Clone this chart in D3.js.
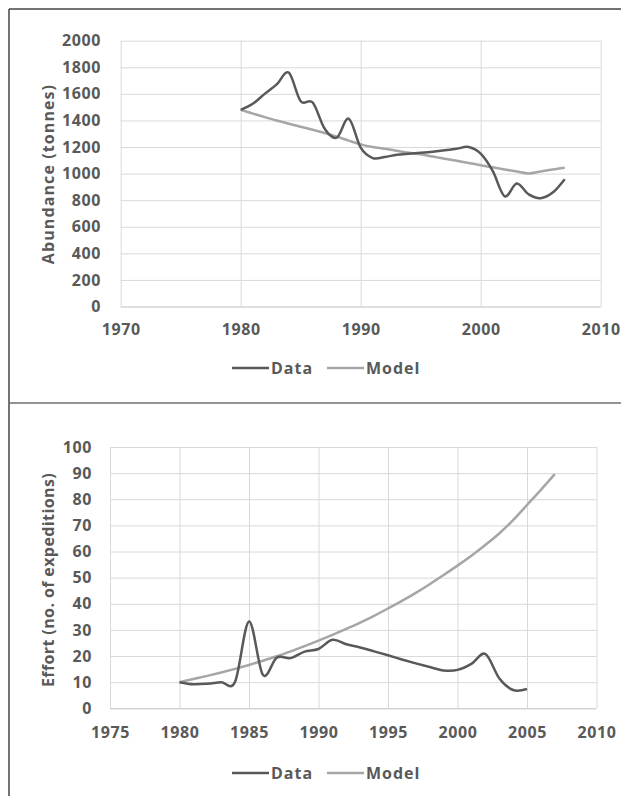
<!DOCTYPE html>
<html>
<head>
<meta charset="utf-8">
<script src="https://cdn.jsdelivr.net/npm/d3@7/dist/d3.min.js"></script>
<style>
body { margin:0; background:#fff; }
svg text { font-family:"Open Sans", sans-serif; font-weight:700; fill:#595959; }
</style>
</head>
<body>
<svg id="chart" width="621" height="796"></svg>
<script>
// abundance chart
var abundanceYears = [1980,1981,1982,1983,1984,1985,1986,1987,1988,1989,1990,1991,1992,1993,
                      1994,1995,1996,1997,1998,1999,2000,2001,2002,2003,2004,2005,2006,2007]
var abundanceData = [1480,1525,1600,1671,1760,1545,1535,1337,1270,1413,1195,1117,1125,1142,
                     1150,1157,1165,1175,1187,1200,1150,1020,829,925,844,815,857,958]
var abundanceModel = [1480,1452,1425,1400,1375,1352,1330,1305,1278,1248,1220,1200,1187,1172,
                      1157,1145,1128,1112,1096,1080,1063,1047,1031,1016,1001,1016,1031,1044]
var abundanceXTicks = [1970,1980,1990,2000,2010]
var abundanceYTicks = [0,200,400,600,800,1000,1200,1400,1600,1800,2000]

// effort chart
var effortDataYears = [1980,1981,1982,1983,1984,1985,1986,1987,1988,1989,1990,1991,1992,
                       1993,1994,1995,1996,1997,1998,1999,2000,2001,2002,2003,2004,2005]
var effortData = [10,9.2,9.4,10,10.2,33.2,12.8,19.4,19.2,21.7,22.7,26.2,24.5,
                  23.3,21.8,20.3,18.7,17.2,15.8,14.5,14.7,17,20.8,11.5,7,7.4]
var effortModelYears = [1980,1981,1982,1983,1984,1985,1986,1987,1988,1989,1990,1991,1992,1993,
                        1994,1995,1996,1997,1998,1999,2000,2001,2002,2003,2004,2005,2006,2007]
var effortModel = [10,11.2,12.4,13.7,15.1,16.6,18.2,19.9,21.8,23.8,25.9,28.1,30.4,32.8,
                   35.4,38.2,41.1,44.2,47.5,51,54.6,58.4,62.5,66.9,72,77.8,83.6,89.6]
var effortXTicks = [1975,1980,1985,1990,1995,2000,2005,2010]
var effortYTicks = [0,10,20,30,40,50,60,70,80,90,100]

var seriesNames = ["Data", "Model"]
var seriesColors = ["#595959", "#a6a6a6"]

var svg = d3.select("#chart")

// frame lines
svg.append("line").attr("x1",9).attr("y1",9).attr("x2",621).attr("y2",9)
   .style("stroke","#444").style("stroke-width",1.5)
svg.append("line").attr("x1",9).attr("y1",9).attr("x2",9).attr("y2",796)
   .style("stroke","#444").style("stroke-width",1.5)
svg.append("line").attr("x1",9).attr("y1",403).attr("x2",621).attr("y2",403)
   .style("stroke","#6f6f6f").style("stroke-width",1.5)

function drawChart(opt){
	var g = svg.append("g")
	var x = d3.scaleLinear().domain([opt.xTicks[0], opt.xTicks[opt.xTicks.length-1]]).range([opt.left, opt.right])
	var y = d3.scaleLinear().domain([opt.yTicks[0], opt.yTicks[opt.yTicks.length-1]]).range([opt.bottom, opt.top])

	var yAxis = g.append("g").attr("transform","translate(" + opt.left + ",0)")
		.call(d3.axisLeft(y).tickValues(opt.yTicks).tickFormat(d3.format("d")).tickSize(-(opt.right-opt.left)).tickPadding(opt.yPad))
	var xAxis = g.append("g").attr("transform","translate(0," + opt.bottom + ")")
		.call(d3.axisBottom(x).tickValues(opt.xTicks).tickFormat(d3.format("d")).tickSize(-(opt.bottom-opt.top)).tickPadding(opt.xPad))

	g.selectAll(".domain").remove()
	g.selectAll(".tick line").style("stroke","#d9d9d9").style("stroke-width",1)
	yAxis.selectAll(".tick").filter(function(d){ return d == 0 }).select("line").style("stroke","#bfbfbf")
	g.selectAll(".tick text").style("font-size","16px").style("letter-spacing","0.6px").style("fill","#595959")
		.style("font-family","'Open Sans', sans-serif").style("font-weight","700")

	g.append("text")
		.attr("transform","translate(" + opt.titleX + "," + opt.titleY + ") rotate(-90)")
		.attr("text-anchor","middle").attr("dominant-baseline","central")
		.style("font-size","16px").style("letter-spacing",opt.titleSpacing)
		.text(opt.title)

	var line = d3.line().x(function(d){ return x(d[0]) }).y(function(d){ return y(d[1]) })
		.curve(d3.curveCatmullRom.alpha(0))

	g.append("path").datum(d3.zip(opt.modelYears, opt.model))
		.attr("d", line).style("fill","none").style("stroke",seriesColors[1]).style("stroke-width",2.5)
	g.append("path").datum(d3.zip(opt.dataYears, opt.data))
		.attr("d", line).style("fill","none").style("stroke",seriesColors[0]).style("stroke-width",2.5)

	// legend
	var legendX = [232, 327]
	seriesNames.forEach(function(name, i){
		g.append("line").attr("x1",legendX[i]).attr("x2",legendX[i]+37)
			.attr("y1",opt.legendY).attr("y2",opt.legendY)
			.style("stroke",seriesColors[i]).style("stroke-width",2.5)
		g.append("text").attr("x",legendX[i]+39).attr("y",opt.legendY)
			.attr("dominant-baseline","central")
			.style("font-size","16px").style("letter-spacing","1px")
			.text(name)
	})
}

drawChart({
	left:120.7, right:600.7, top:40.7, bottom:306.5,
	xTicks:abundanceXTicks, yTicks:abundanceYTicks, xPad:17, yPad:19.7,
	dataYears:abundanceYears, data:abundanceData,
	modelYears:abundanceYears, model:abundanceModel,
	title:"Abundance (tonnes)", titleSpacing:"1.1px", titleX:47.5, titleY:174, legendY:368
})

drawChart({
	left:110, right:596.5, top:447, bottom:708.3,
	xTicks:effortXTicks, yTicks:effortYTicks, xPad:18.4, yPad:18,
	dataYears:effortDataYears, data:effortData,
	modelYears:effortModelYears, model:effortModel,
	title:"Effort (no. of expeditions)", titleSpacing:"0.4px", titleX:47.5, titleY:580, legendY:773
})
</script>
</body>
</html>
